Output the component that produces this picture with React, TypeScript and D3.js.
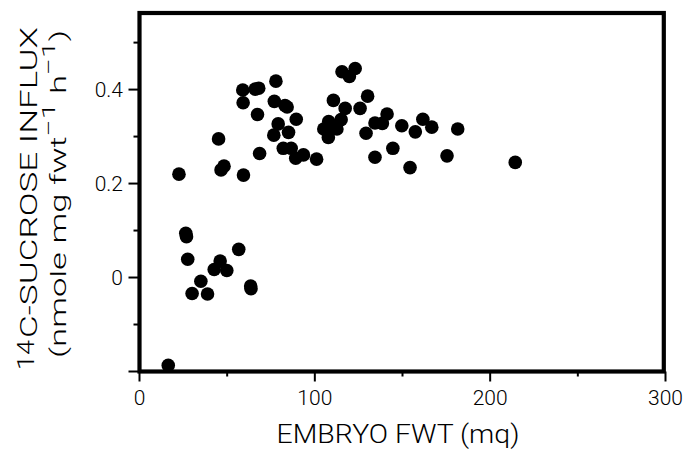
import React from "react";
import * as d3 from "d3";

const embryoFwt = [
  16.4, 22.5, 26.4, 26.8, 27.5, 30.0, 35.0, 38.8, 42.6, 46.0, 49.8, 45.1, 46.5, 48.2,
  56.6, 59.3, 58.9, 59.1, 63.4, 63.6, 66.0, 68.0, 67.3, 68.5, 77.8, 76.9, 84.2, 83.0,
  89.4, 79.1, 76.6, 85.0, 82.0, 86.5, 89.1, 93.5, 101.0, 110.6, 107.9, 105.1, 107.7,
  112.6, 115.0, 117.3, 110.0, 115.5, 119.7, 123.0, 125.8, 130.1, 129.2, 134.3, 138.5,
  141.2, 134.3, 144.5, 149.6, 154.3, 157.3, 161.6, 166.7, 175.4, 181.5, 214.3,
];
const sucroseInflux = [
  -0.187, 0.22, 0.094, 0.087, 0.039, -0.034, -0.008, -0.035, 0.017, 0.035, 0.015, 0.295,
  0.229, 0.237, 0.06, 0.218, 0.399, 0.372, -0.018, -0.024, 0.401, 0.403, 0.347, 0.264,
  0.418, 0.375, 0.363, 0.366, 0.337, 0.327, 0.303, 0.309, 0.275, 0.275, 0.254, 0.261,
  0.252, 0.377, 0.332, 0.316, 0.298, 0.316, 0.336, 0.36, 0.322, 0.438, 0.428, 0.445,
  0.36, 0.386, 0.307, 0.329, 0.328, 0.348, 0.256, 0.275, 0.323, 0.234, 0.31, 0.337,
  0.32, 0.259, 0.316, 0.245,
];

const xMajorTicks = [0, 100, 200, 300];
const xTickLabels = ["0", "100", "200", "300"];
const xMinorTicks = [50, 150, 250];
const yMajorTicks = [-0.2, 0, 0.2, 0.4];
const yTickLabels = ["", "0", "0.2", "0.4"];
const yMinorTicks = [-0.1, 0.1, 0.3, 0.5];

const xTitle = "EMBRYO FWT (mq)";
const yTitleIso = "14";
const yTitleMain = "C-SUCROSE INFLUX";

const FONT = "Roboto, 'Liberation Sans', Arial, sans-serif";

export default function App() {
  const x = d3.scaleLinear().domain([0, 300]).range([139.5, 665.5]);
  const y = d3.scaleLinear().domain([-0.2, 0.563]).range([371.5, 13]);
  const points = embryoFwt.map((v, i) => ({ x: v, y: sucroseInflux[i] }));
  const left = x(0);
  const bottom = y(-0.2);
  const top = y(0.563);
  const right = 663.8;

  return (
    <svg
      width={684}
      height={450}
      style={{ position: "absolute", left: 0, top: 0, background: "#fff" }}
      fontFamily={FONT}
      fontWeight={300}
    >
      <rect x={0} y={0} width={684} height={450} fill="#fff" />
      {points.map((p, i) => (
        <circle key={i} cx={x(p.x)} cy={y(p.y)} r={6.8} fill="#000" />
      ))}
      <rect
        x={left}
        y={top}
        width={right - left}
        height={bottom - top}
        fill="none"
        stroke="#000"
        strokeWidth={4.2}
      />
      {yMajorTicks.map((t, i) => (
        <g key={"ym" + i}>
          <line x1={left - 11} x2={left} y1={y(t)} y2={y(t)} stroke="#000" strokeWidth={2} />
          {yTickLabels[i] && (
            <text x={123} y={y(t) + 7.5} fontSize={21} textAnchor="end" fill="#000">
              {yTickLabels[i]}
            </text>
          )}
        </g>
      ))}
      {yMinorTicks.map((t, i) => (
        <line key={"yn" + i} x1={left - 6} x2={left} y1={y(t)} y2={y(t)} stroke="#000" strokeWidth={2} />
      ))}
      {xMajorTicks.map((t, i) => (
        <g key={"xm" + i}>
          <line x1={x(t)} x2={x(t)} y1={bottom} y2={bottom + 10} stroke="#000" strokeWidth={2} />
          <text x={x(t)} y={405} fontSize={21} textAnchor="middle" fill="#000">
            {xTickLabels[i]}
          </text>
        </g>
      ))}
      {xMinorTicks.map((t, i) => (
        <line key={"xn" + i} x1={x(t)} x2={x(t)} y1={bottom} y2={bottom + 5} stroke="#000" strokeWidth={2} />
      ))}
      <text x={398} y={443} fontSize={26} textAnchor="middle" textLength={243} lengthAdjust="spacingAndGlyphs" fill="#000">
        {xTitle}
      </text>
      <text transform="translate(34,370) rotate(-90)" fontSize={23} textLength={30} lengthAdjust="spacingAndGlyphs" fill="#000">
        {yTitleIso}
      </text>
      <text transform="translate(37,338) rotate(-90)" fontSize={23} textLength={311} lengthAdjust="spacingAndGlyphs" fill="#000">
        {yTitleMain}
      </text>
      <text transform="translate(66,358) rotate(-90)" fontSize={22} textLength={328} lengthAdjust="spacingAndGlyphs" fill="#000">
        <tspan>(nmole mg fwt</tspan>
        <tspan dy={-11} fontSize={19}>−1</tspan>
        <tspan dy={11}> h</tspan>
        <tspan dy={-11} fontSize={19}>−1</tspan>
        <tspan dy={11}>)</tspan>
      </text>
    </svg>
  );
}
